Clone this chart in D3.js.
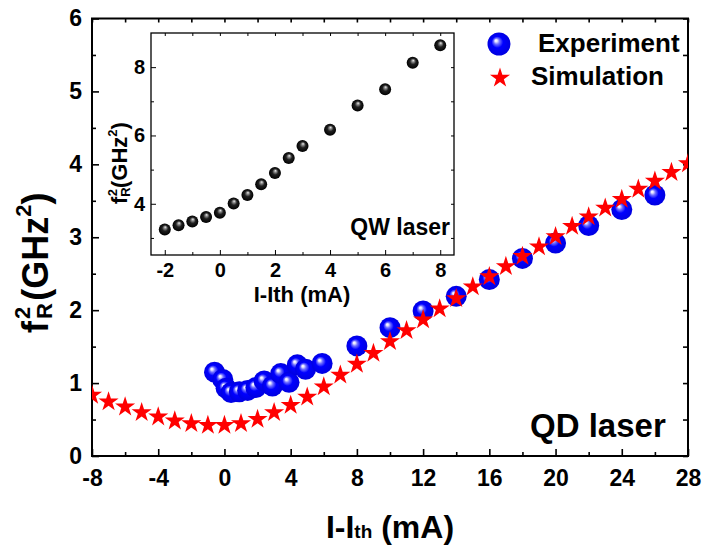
<!DOCTYPE html>
<meta charset="utf-8">
<head>
  <title>QD laser fR2</title>
</head>
<style>
  body { margin: 0; background: #fff; }
  text { font-family: "Liberation Sans", Arial, sans-serif; font-weight: bold; fill: #000; }
</style>
<body>
<div id="chart"></div>
<script src="https://d3js.org/d3.v7.min.js"></script>
<script>

// ---- data ----
// main panel: QD laser
var expX = [-0.6, -0.1, 0.1, 0.4, 0.9, 1.4, 1.9, 2.4, 2.9, 3.4, 3.9, 4.4, 4.9, 5.9, 8, 10, 12, 14, 16, 18, 20, 22, 24, 26];
var expY = [1.15, 1.05, 0.93, 0.87, 0.88, 0.90, 0.94, 1.03, 0.96, 1.13, 1.01, 1.25, 1.19, 1.27, 1.51, 1.76, 1.99, 2.19, 2.42, 2.71, 2.92, 3.16, 3.38, 3.58];

var simX = [-8, -7, -6, -5, -4, -3, -2, -1, 0, 1, 2, 3, 4, 5, 6, 7, 8, 9, 10, 11, 12, 13, 14, 15, 16, 17, 18, 19, 20, 21, 22, 23, 24, 25, 26, 27, 28];
var simY = [0.835, 0.743, 0.674, 0.596, 0.537, 0.482, 0.445, 0.422, 0.422, 0.445, 0.505, 0.596, 0.697, 0.81, 0.95, 1.11, 1.26, 1.41, 1.57, 1.72, 1.87, 2.02, 2.16, 2.32, 2.46, 2.60, 2.74, 2.87, 3.01, 3.15, 3.28, 3.40, 3.52, 3.66, 3.77, 3.89, 4.01];

var mainXTicks = [-8, -4, 0, 4, 8, 12, 16, 20, 24, 28];
var mainYTicks = [0, 1, 2, 3, 4, 5, 6];

// inset: QW laser
var qwX = [-2, -1.5, -1, -0.5, 0, 0.5, 1, 1.5, 2, 2.5, 3, 4, 5, 6, 7, 8];
var qwY = [3.25, 3.37, 3.48, 3.61, 3.74, 4.01, 4.26, 4.57, 4.90, 5.34, 5.69, 6.17, 6.88, 7.35, 8.13, 8.64];

var insetXTicks = [-2, 0, 2, 4, 6, 8];
var insetYTicks = [4, 6, 8];

// ---- layout ----
var W = 703, H = 549;
var box = {left: 92, right: 688, top: 18.5, bottom: 456};
var ibox = {left: 151, right: 454, top: 33, bottom: 255};

var svg = d3.select("#chart").append("svg")
  .attr("width", W).attr("height", H);

var defs = svg.append("defs");

// shiny ball gradients
var gb = defs.append("radialGradient").attr("id", "blueBall")
  .attr("cx", "50%").attr("cy", "50%").attr("r", "50%")
  .attr("fx", "36%").attr("fy", "34%");
gb.append("stop").attr("offset", "0%").attr("stop-color", "#ffffff");
gb.append("stop").attr("offset", "10%").attr("stop-color", "#e8e8ff");
gb.append("stop").attr("offset", "26%").attr("stop-color", "#7070ff");
gb.append("stop").attr("offset", "50%").attr("stop-color", "#0000ff");
gb.append("stop").attr("offset", "100%").attr("stop-color", "#0000e0");

var gk = defs.append("radialGradient").attr("id", "blackBall")
  .attr("cx", "50%").attr("cy", "50%").attr("r", "50%")
  .attr("fx", "55%").attr("fy", "30%");
gk.append("stop").attr("offset", "0%").attr("stop-color", "#f0f0f0");
gk.append("stop").attr("offset", "20%").attr("stop-color", "#909090");
gk.append("stop").attr("offset", "50%").attr("stop-color", "#202020");
gk.append("stop").attr("offset", "100%").attr("stop-color", "#000000");

defs.append("clipPath").attr("id", "plotClip")
  .append("rect")
  .attr("x", box.left).attr("y", box.top)
  .attr("width", box.right - box.left).attr("height", box.bottom - box.top);

// ---- main scales ----
var x = d3.scaleLinear().domain([-8, 28]).range([box.left, box.right]);
var y = d3.scaleLinear().domain([0, 6]).range([box.bottom, box.top]);

function minorOf(majors, step) {
  var out = [];
  for (var i = 0; i < majors.length - 1; i++) out.push(majors[i] + step);
  return out;
}
var plain = function(d) { return String(d); };

function styleAxis(g, fs) {
  g.select(".domain").remove();
  g.selectAll(".tick line").attr("stroke", "#000").attr("stroke-width", 1.6);
  g.selectAll(".tick text")
    .style("font-family", '"Liberation Sans", Arial, sans-serif')
    .style("font-weight", "bold")
    .style("font-size", fs + "px")
    .attr("fill", "#000");
}

// main axes (ticks inward)
var mainFont = 23;
svg.append("g").attr("transform", "translate(0," + box.bottom + ")")
  .call(d3.axisBottom(x).tickValues(mainXTicks).tickFormat(plain).tickSize(-7).tickPadding(14).tickSizeOuter(0))
  .call(styleAxis, mainFont);
svg.append("g").attr("transform", "translate(0," + box.bottom + ")")
  .call(d3.axisBottom(x).tickValues(minorOf(mainXTicks, 2)).tickSize(-4).tickFormat("").tickSizeOuter(0))
  .call(styleAxis, mainFont);
svg.append("g").attr("transform", "translate(0," + box.top + ")")
  .call(d3.axisTop(x).tickValues(mainXTicks.concat(minorOf(mainXTicks, 2))).tickSize(-4).tickFormat("").tickSizeOuter(0))
  .call(styleAxis, mainFont);

svg.append("g").attr("transform", "translate(" + box.left + ",0)")
  .call(d3.axisLeft(y).tickValues(mainYTicks).tickFormat(plain).tickSize(-7).tickPadding(10).tickSizeOuter(0))
  .call(styleAxis, mainFont);
svg.append("g").attr("transform", "translate(" + box.left + ",0)")
  .call(d3.axisLeft(y).tickValues(minorOf(mainYTicks, 0.5)).tickSize(-4).tickFormat("").tickSizeOuter(0))
  .call(styleAxis, mainFont);
svg.append("g").attr("transform", "translate(" + box.right + ",0)")
  .call(d3.axisRight(y).tickValues(mainYTicks.concat(minorOf(mainYTicks, 0.5))).tickSize(-5).tickFormat("").tickSizeOuter(0))
  .call(styleAxis, mainFont);

svg.append("rect")
  .attr("x", box.left).attr("y", box.top)
  .attr("width", box.right - box.left).attr("height", box.bottom - box.top)
  .attr("fill", "none").attr("stroke", "#000").attr("stroke-width", 2);

// ---- main marks ----
var plot = svg.append("g").attr("clip-path", "url(#plotClip)");

plot.selectAll(".exp")
  .data(expX.map(function(d, i) { return {x: d, y: expY[i]}; }))
  .enter().append("circle")
    .attr("class", "exp")
    .attr("cx", function(d) { return x(d.x); })
    .attr("cy", function(d) { return y(d.y); })
    .attr("r", 10.5)
    .attr("fill", "url(#blueBall)");

var star = d3.symbol().type(d3.symbolStar).size(125);
plot.selectAll(".sim")
  .data(simX.map(function(d, i) { return {x: d, y: simY[i]}; }))
  .enter().append("path")
    .attr("class", "sim")
    .attr("d", star)
    .attr("transform", function(d) { return "translate(" + x(d.x) + "," + y(d.y) + ")"; })
    .attr("fill", "#ff0000");

// ---- main labels ----
svg.append("text")
  .attr("x", 530).attr("y", 437)
  .style("font-size", "33px")
  .text("QD laser");

var xt = svg.append("text")
  .attr("x", 390).attr("y", 538)
  .attr("text-anchor", "middle")
  .style("font-size", "32px");
xt.append("tspan").text("I-I");
xt.append("tspan").style("font-size", "19px").text("th");
xt.append("tspan").text(" (mA)");

var yt = svg.append("text")
  .attr("transform", "translate(48,333) rotate(-90)")
  .style("font-size", "36px");
yt.append("tspan").text("f");
yt.append("tspan").style("font-size", "22px").attr("dy", 4).attr("dx", 2).text("R");
yt.append("tspan").style("font-size", "22px").attr("dx", -16).attr("dy", -22).text("2");
yt.append("tspan").attr("dy", 18).attr("dx", 6).text("(GHz");
yt.append("tspan").style("font-size", "22px").attr("dy", -17).text("2");
yt.append("tspan").attr("dy", 17).text(")");

// legend
svg.append("circle").attr("cx", 499).attr("cy", 44).attr("r", 11.5).attr("fill", "url(#blueBall)");
svg.append("text").attr("x", 538).attr("y", 52).style("font-size", "26px").text("Experiment");
svg.append("path").attr("d", star).attr("transform", "translate(500,78)").attr("fill", "#ff0000");
svg.append("text").attr("x", 531).attr("y", 85).style("font-size", "26px").text("Simulation");

// ---- inset ----
var ix = d3.scaleLinear().domain([-2.5, 8.5]).range([ibox.left, ibox.right]);
var iy = d3.scaleLinear().domain([2.5, 9]).range([ibox.bottom, ibox.top]);

var inset = svg.append("g");
inset.append("rect")
  .attr("x", ibox.left).attr("y", ibox.top)
  .attr("width", ibox.right - ibox.left).attr("height", ibox.bottom - ibox.top)
  .attr("fill", "#fff");

var insetFont = 20;
var ixMinor = [-1, 1, 3, 5, 7];
var iyMinor = [3, 5, 7];
inset.append("g").attr("transform", "translate(0," + ibox.bottom + ")")
  .call(d3.axisBottom(ix).tickValues(insetXTicks).tickFormat(plain).tickSize(-5).tickPadding(8).tickSizeOuter(0))
  .call(styleAxis, insetFont);
inset.append("g").attr("transform", "translate(0," + ibox.bottom + ")")
  .call(d3.axisBottom(ix).tickValues(ixMinor).tickSize(-3).tickFormat("").tickSizeOuter(0))
  .call(styleAxis, insetFont);
inset.append("g").attr("transform", "translate(0," + ibox.top + ")")
  .call(d3.axisTop(ix).tickValues(insetXTicks.concat(ixMinor)).tickSize(-3).tickFormat("").tickSizeOuter(0))
  .call(styleAxis, insetFont);
inset.append("g").attr("transform", "translate(" + ibox.left + ",0)")
  .call(d3.axisLeft(iy).tickValues(insetYTicks).tickFormat(plain).tickSize(-5).tickPadding(6).tickSizeOuter(0))
  .call(styleAxis, insetFont);
inset.append("g").attr("transform", "translate(" + ibox.left + ",0)")
  .call(d3.axisLeft(iy).tickValues(iyMinor).tickSize(-3).tickFormat("").tickSizeOuter(0))
  .call(styleAxis, insetFont);
inset.append("g").attr("transform", "translate(" + ibox.right + ",0)")
  .call(d3.axisRight(iy).tickValues(insetYTicks.concat(iyMinor)).tickSize(-3).tickFormat("").tickSizeOuter(0))
  .call(styleAxis, insetFont);
inset.selectAll(".tick line").attr("stroke-width", 1);

inset.append("rect")
  .attr("x", ibox.left).attr("y", ibox.top)
  .attr("width", ibox.right - ibox.left).attr("height", ibox.bottom - ibox.top)
  .attr("fill", "none").attr("stroke", "#000").attr("stroke-width", 1.3);

inset.selectAll(".qw")
  .data(qwX.map(function(d, i) { return {x: d, y: qwY[i]}; }))
  .enter().append("circle")
    .attr("class", "qw")
    .attr("cx", function(d) { return ix(d.x); })
    .attr("cy", function(d) { return iy(d.y); })
    .attr("r", 6)
    .attr("fill", "url(#blackBall)");

inset.append("text")
  .attr("x", 450).attr("y", 235)
  .attr("text-anchor", "end")
  .style("font-size", "23px")
  .text("QW laser");

inset.append("text")
  .attr("x", 302).attr("y", 302)
  .attr("text-anchor", "middle")
  .style("font-size", "22px")
  .text("I-Ith (mA)");

var iyt = inset.append("text")
  .attr("transform", "translate(127,204) rotate(-90)")
  .style("font-size", "22px");
iyt.append("tspan").text("f");
iyt.append("tspan").style("font-size", "13px").attr("dy", 3).text("R");
iyt.append("tspan").style("font-size", "13px").attr("dx", -9).attr("dy", -13).text("2");
iyt.append("tspan").attr("dy", 10).attr("dx", 1).text("(GHz");
iyt.append("tspan").style("font-size", "13px").attr("dy", -10).text("2");
iyt.append("tspan").attr("dy", 10).text(")");

</script>
</body>
</html>
